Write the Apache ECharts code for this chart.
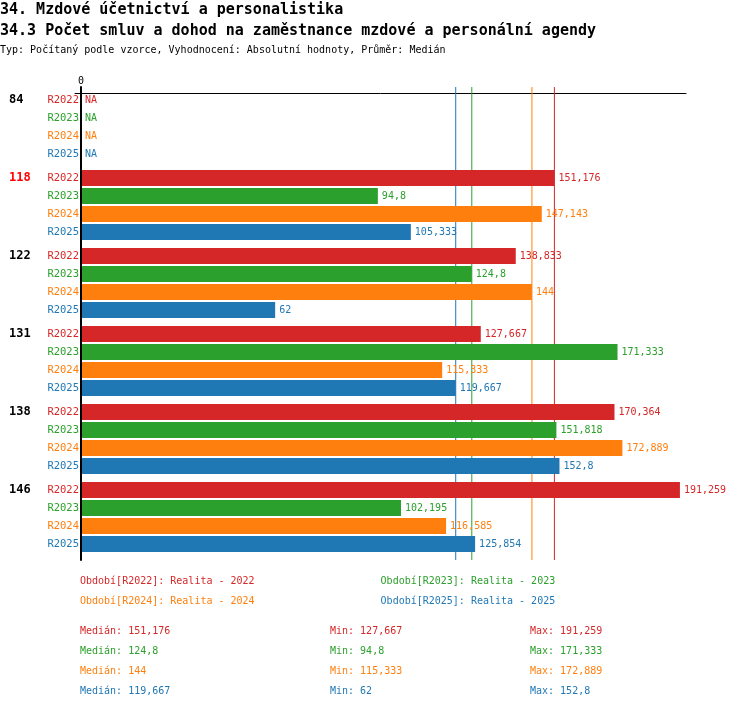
<!DOCTYPE html>
<html><head><meta charset="utf-8">
<script src="https://cdn.jsdelivr.net/npm/echarts@6/dist/echarts.min.js"></script>
<style>html,body{margin:0;padding:0;background:#fff}#c{width:750px;height:710px}</style>
</head><body><div id="c"></div>
<script>
const titleText = '34. Mzdové účetnictví a personalistika';
const subtitleText = '34.3 Počet smluv a dohod na zaměstnance mzdové a personální agendy';
const typText = 'Typ: Počítaný podle vzorce, Vyhodnocení: Absolutní hodnoty, Průměr: Medián';
const categories = ['84', '118', '122', '131', '138', '146'];
const highlighted = '118';
const periods = ['R2022', 'R2023', 'R2024', 'R2025'];
const periodYears = ['2022', '2023', '2024', '2025'];
const r2022 = [null, 151.176, 138.833, 127.667, 170.364, 191.259];
const r2023 = [null, 94.8, 124.8, 171.333, 151.818, 102.195];
const r2024 = [null, 147.143, 144, 115.333, 172.889, 116.585];
const r2025 = [null, 105.333, 62, 119.667, 152.8, 125.854];
const seriesValues = [r2022, r2023, r2024, r2025];
const xMax = 193.2;
const xTickLabels = ['0'];

const colors = ['#d62728', '#2ca02c', '#ff7f0e', '#1f77b4'];
const FONT = 'DejaVu Sans Mono';

const fmt = v => String(+v.toFixed(3)).replace('.', ',');
function median(a) {
  const s = a.filter(v => v != null).sort((x, y) => x - y);
  const n = s.length;
  return n % 2 ? s[(n - 1) / 2] : (s[n / 2 - 1] + s[n / 2]) / 2;
}
const stats = seriesValues.map(a => {
  const f = a.filter(v => v != null);
  return { med: median(a), min: Math.min(...f), max: Math.max(...f) };
});

const richRows = {};
periods.forEach((p, i) => { richRows['r' + i] = { color: colors[i], fontFamily: FONT, fontSize: 10.5, lineHeight: 18 }; });
const richGroup = {
  g: { color: '#000', fontFamily: FONT, fontSize: 12, fontWeight: 'bold', lineHeight: 18 },
  h: { color: '#ff0000', fontFamily: FONT, fontSize: 12, fontWeight: 'bold', lineHeight: 18 },
  e: { fontFamily: FONT, fontSize: 10, lineHeight: 18 }
};

const medianSeries = stats.map((s, i) => ({
  name: 'median-' + periods[i],
  type: 'line',
  xAxisIndex: 1,
  yAxisIndex: 2,
  z: 1,
  zlevel: 0,
  symbol: 'none',
  silent: true,
  lineStyle: { color: colors[i], width: 1, type: 'solid' },
  itemStyle: { color: colors[i] },
  data: [[s.med, 0], [s.med, 1]]
}));

const barSeries = periods.map((p, i) => ({
  name: p,
  type: 'bar',
  xAxisIndex: 0,
  yAxisIndex: 0,
  z: 5,
  zlevel: 1,
  barWidth: 16,
  barGap: '12.5%',
  itemStyle: { color: colors[i] },
  data: seriesValues[i].map(v => v == null ? { value: 0, na: true } : { value: v }),
  label: {
    show: true,
    position: 'right',
    distance: 4,
    color: colors[i],
    fontFamily: FONT,
    fontSize: 10,
    formatter: pr => pr.data.na ? 'NA' : fmt(pr.value)
  },
  emphasis: { disabled: true },
  silent: true
}));

const titles = [
  { text: titleText, left: 0, top: 2, padding: 0, textStyle: { fontFamily: FONT, fontSize: 15, fontWeight: 'bold', color: '#000', lineHeight: 16 } },
  { text: subtitleText, left: 0, top: 23, padding: 0, textStyle: { fontFamily: FONT, fontSize: 15, fontWeight: 'bold', color: '#000', lineHeight: 16 } },
  { text: typText, left: 0, top: 44, padding: 0, textStyle: { fontFamily: FONT, fontSize: 10, fontWeight: 'normal', color: '#000', lineHeight: 12 } }
];
const statCols = [80, 330, 530];
stats.forEach((s, i) => {
  const texts = ['Medián: ' + fmt(s.med), 'Min: ' + fmt(s.min), 'Max: ' + fmt(s.max)];
  texts.forEach((t, j) => {
    titles.push({ text: t, left: statCols[j], top: 625 + 20 * i, padding: 0,
      textStyle: { fontFamily: FONT, fontSize: 10, fontWeight: 'normal', color: colors[i], lineHeight: 12 } });
  });
});

const legendFmt = name => 'Období[' + name + ']: Realita - ' + periodYears[periods.indexOf(name)];
function mkLegend(idxs, top) {
  return {
    left: 75, top: top, orient: 'horizontal', padding: 0, itemGap: 121,
    icon: 'none', itemWidth: 0, itemHeight: 14, selectedMode: false,
    formatter: legendFmt,
    textStyle: { fontFamily: FONT, fontSize: 10 },
    data: idxs.map(i => ({ name: periods[i], textStyle: { color: colors[i], fontFamily: FONT, fontSize: 10 } }))
  };
}

const option = {
  animation: false,
  backgroundColor: '#fff',
  title: titles,
  legend: [mkLegend([0, 1], 574), mkLegend([2, 3], 594)],
  grid: [
    { left: 81, top: 88, width: 605, height: 468 },
    { left: 81, top: 87, width: 605, height: 473 },
    { left: 75, top: 92, width: 611, height: 1 }
  ],
  xAxis: [
    { gridIndex: 0, type: 'value', min: 0, max: xMax, show: false },
    { gridIndex: 1, type: 'value', min: 0, max: xMax, interval: 1000, position: 'top',
      axisLine: { show: false }, axisTick: { show: false }, splitLine: { show: false },
      axisLabel: { show: true, margin: 1, fontFamily: FONT, fontSize: 10, color: '#000',
        formatter: v => v === 0 ? xTickLabels[0] : '' } },
    { gridIndex: 2, type: 'value', min: 0, max: 1, position: 'top',
      axisLine: { show: true, lineStyle: { color: '#000', width: 1 } },
      axisTick: { show: false }, axisLabel: { show: false }, splitLine: { show: false } }
  ],
  yAxis: [
    { gridIndex: 0, type: 'category', data: categories, inverse: true, position: 'left',
      axisLine: { show: false }, axisTick: { show: false }, splitLine: { show: false },
      axisLabel: { margin: 2, rich: richRows,
        formatter: () => periods.map((p, i) => '{r' + i + '|' + p + '}').join('\n') } },
    { gridIndex: 0, type: 'category', data: categories, inverse: true, position: 'left', offset: 0,
      axisLine: { show: false }, axisTick: { show: false }, splitLine: { show: false },
      axisLabel: { margin: 72, align: 'left', rich: richGroup,
        formatter: v => '{' + (v === highlighted ? 'h' : 'g') + '|' + v + '}\n{e| }\n{e| }\n{e| }' } },
    { gridIndex: 1, type: 'value', min: 0, max: 1, z: 10, zlevel: 1,
      axisLine: { show: true, lineStyle: { color: '#000', width: 2 } },
      axisTick: { show: false }, axisLabel: { show: false }, splitLine: { show: false } },
    { gridIndex: 2, type: 'value', min: 0, max: 1, show: false }
  ],
  series: [...medianSeries, ...barSeries]
};

const chart = echarts.init(document.getElementById('c'));
chart.setOption(option);
</script>
</body></html>
